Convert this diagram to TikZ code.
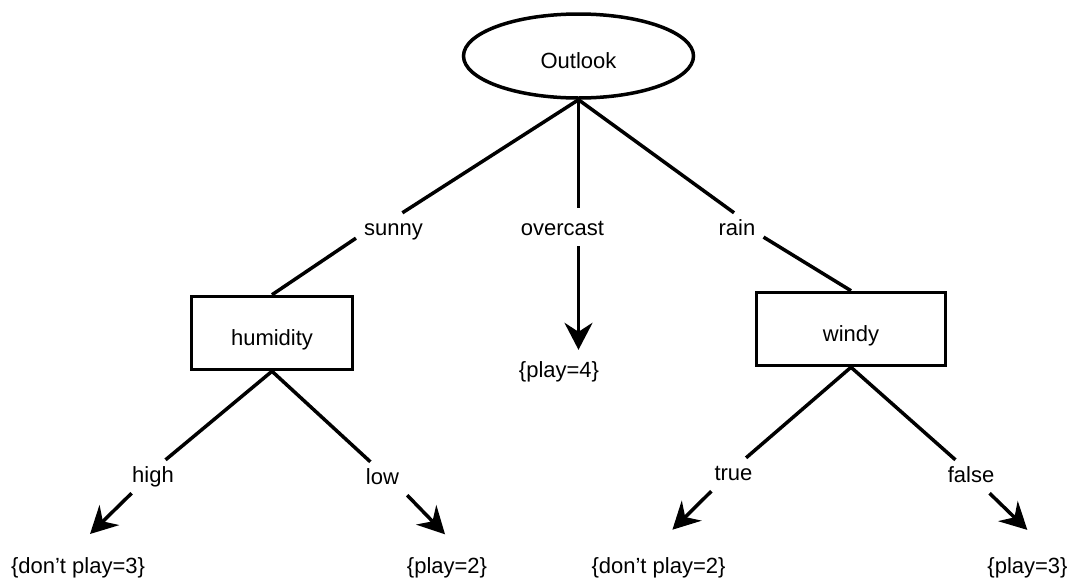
\documentclass[tikz,border=0pt]{standalone}
\usepackage{fontspec}
\setmainfont{Liberation Sans}
\usetikzlibrary{arrows.meta,shapes.geometric}
\begin{document}
\begin{tikzpicture}[x=1pt,y=-1pt,
  every node/.style={font=\fontsize{22}{26}\selectfont},
  decision/.style={draw, line width=3.5pt, text height=25pt, text depth=0pt},
  edgelabel/.style={inner xsep=8pt, inner ysep=6pt, text height=16pt, text depth=5pt, anchor=base},
  leaf/.style={edgelabel},
  branch/.style={line width=3.5pt},
  toleaf/.style={branch, -{Stealth[length=27pt,width=28pt,inset=9pt]}},
]
\useasboundingbox (0,0) rectangle (1073,582);

% decision nodes
\node[decision, ellipse, minimum width=230pt, minimum height=84pt] (outlook) at (578.5,56) {Outlook};
\node[decision, rectangle, minimum width=161pt, minimum height=73pt] (humidity) at (272,333) {humidity};
\node[decision, rectangle, minimum width=189pt, minimum height=73pt] (windy) at (851,329) {windy};

% branch labels
\node[edgelabel] (lsunny) at (393.5,235) {sunny};
\node[edgelabel] (lovercast) at (562.5,235) {overcast};
\node[edgelabel] (lrain) at (737,235) {rain};
\node[edgelabel] (lhigh) at (153,482) {high};
\node[edgelabel] (llow) at (382.5,484) {low};
\node[edgelabel] (ltrue) at (733.5,480) {true};
\node[edgelabel] (lfalse) at (971,482) {false};

% leaves
\node[leaf] (dp3) at (78,573) {\{don’t play=3\}};
\node[leaf] (p2) at (447,573) {\{play=2\}};
\node[leaf] (dp2) at (658.5,573) {\{don’t play=2\}};
\node[leaf] (p3) at (1027.5,573) {\{play=3\}};
\node[leaf] (p4) at (559,377) {\{play=4\}};

% Outlook branches
\draw[branch] (outlook.south) -- (lsunny.62);
\draw[branch] (lsunny.193) -- (humidity.north);
\draw[branch, shorten >=5pt] (outlook.south) -- (outlook.south |- lovercast.north);
\draw[toleaf, shorten >=5pt] (outlook.south |- lovercast.south) -- (outlook.south |- p4.north);
\draw[branch] (outlook.south) -- (lrain.100);
\draw[branch] (lrain.-16) -- (windy.north);

% humidity branches
\draw[branch] (humidity.south) -- (lhigh.53);
\draw[toleaf, shorten >=24pt] (lhigh.218) -- (dp3.107);
\draw[branch] (humidity.south) -- (llow.126);
\draw[toleaf, shorten >=23pt] (llow.south east) -- (p2.50);

% windy branches
\draw[branch] (windy.south) -- (ltrue.53);
\draw[toleaf, shorten >=30pt] (ltrue.217) -- (dp2.114);
\draw[branch] (windy.south) -- (lfalse.133);
\draw[toleaf, shorten >=30pt] (lfalse.-42) -- (p3.38);
\end{tikzpicture}
\end{document}
